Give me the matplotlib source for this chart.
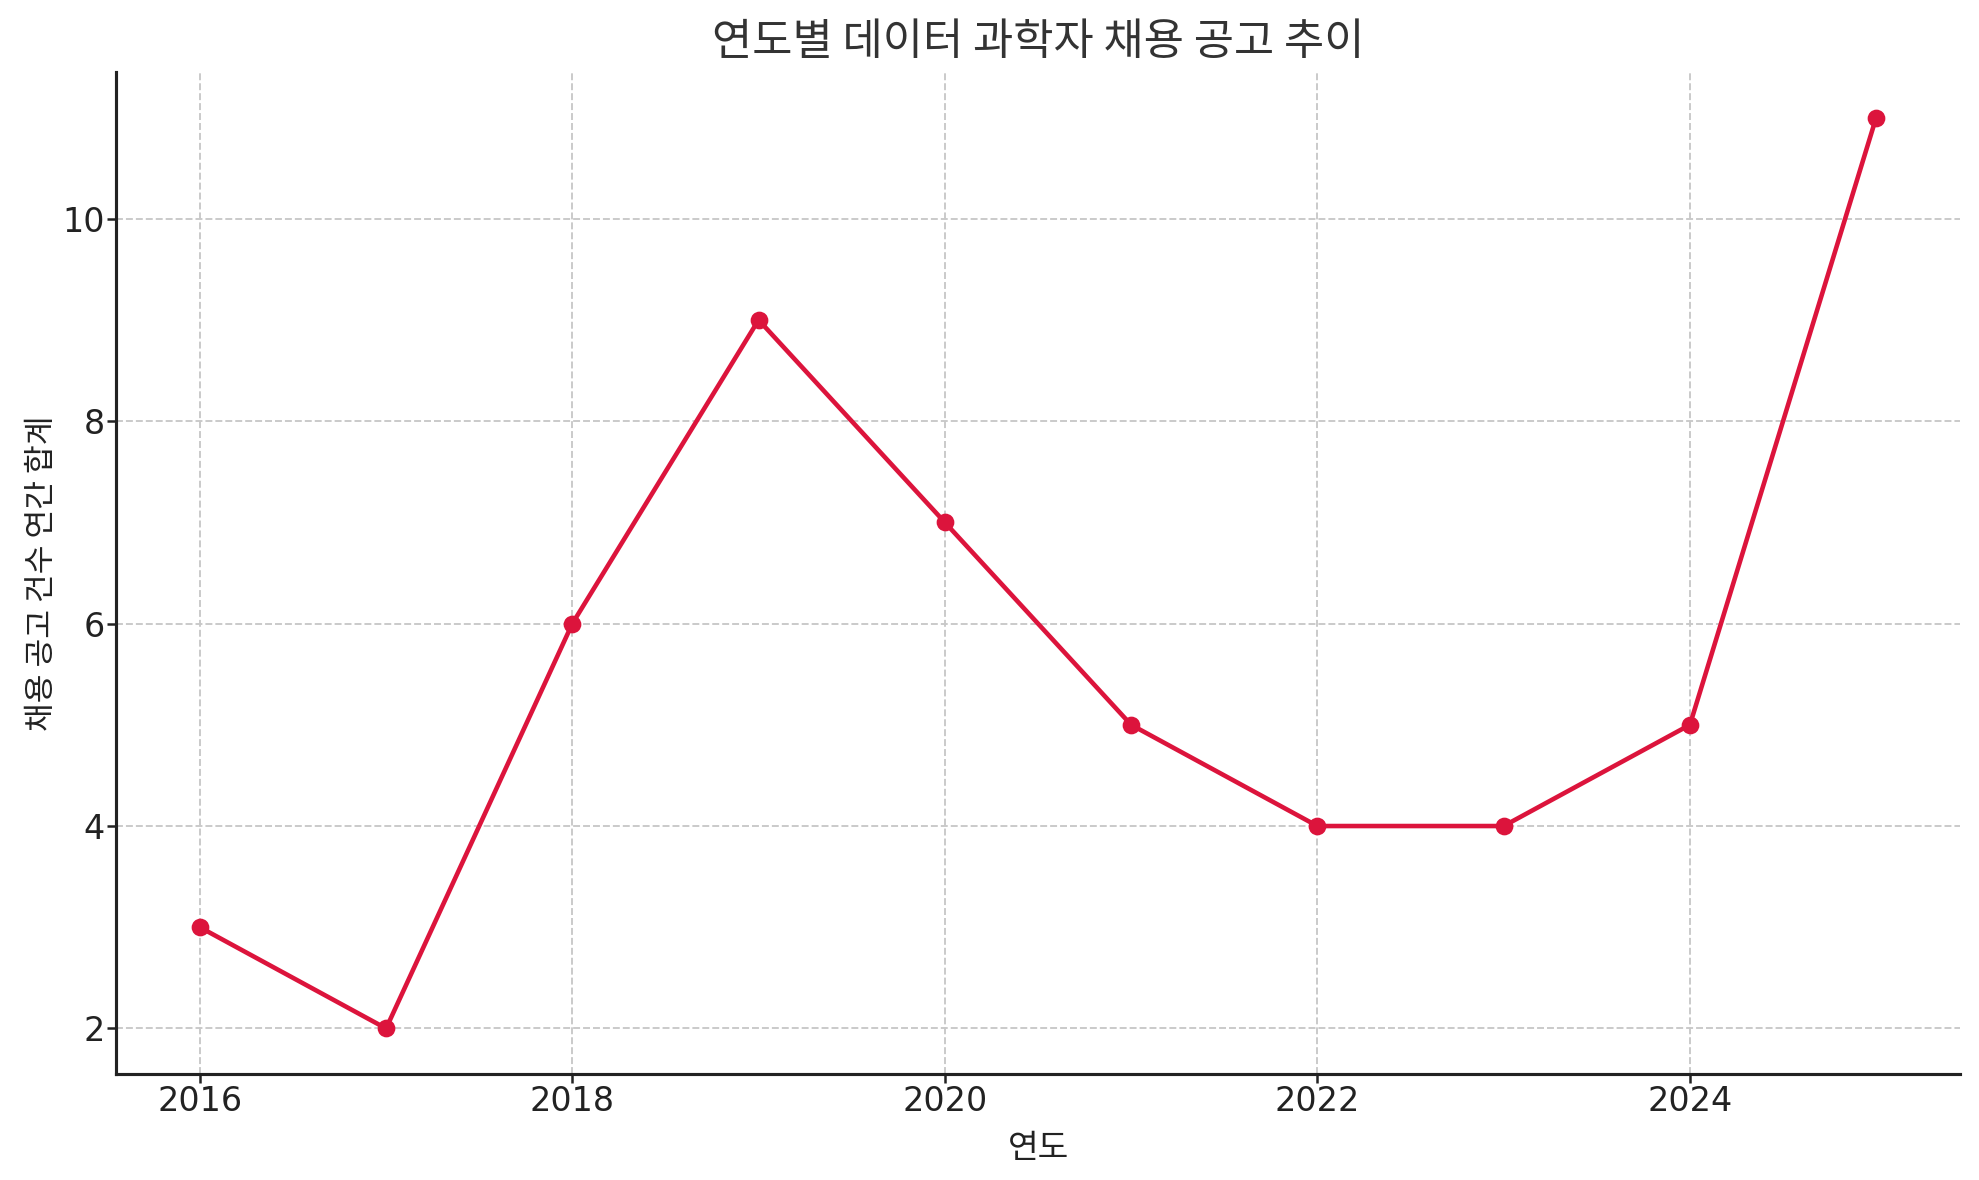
import matplotlib
matplotlib.use("Agg")
import matplotlib.pyplot as plt

years = [2016, 2017, 2018, 2019, 2020, 2021, 2022, 2023, 2024, 2025]
counts = [3, 2, 6, 9, 7, 5, 4, 4, 5, 11]
title = "연도별 데이터 과학자 채용 공고 추이"
xlabel = "연도"
ylabel = "채용 공고 건수 연간 합계"

plt.rcParams['font.family'] = ['DejaVu Sans', 'Noto Sans CJK KR']
KR = ['Noto Sans CJK KR', 'DejaVu Sans']

W, H, DPI = 1979, 1180, 150
fig = plt.figure(figsize=(W / DPI, H / DPI), dpi=DPI)
ax = fig.add_axes([116 / W, 1 - 1074 / H, (1960 - 116) / W, (1074 - 72) / H])

ax.plot(years, counts, color='#DC143C', linewidth=2.2, marker='o', markersize=7.5)
ax.grid(True, linestyle='--', color='#c8c8c8', linewidth=0.9)
ax.set_axisbelow(True)
for s in ['top', 'right']:
    ax.spines[s].set_visible(False)
for s in ['left', 'bottom']:
    ax.spines[s].set_linewidth(1.5)
    ax.spines[s].set_color('#222222')
ax.tick_params(labelsize=16, colors='#222222', length=4.5, width=1.2, pad=1)
ax.set_xticks([2016, 2018, 2020, 2022, 2024])
ax.set_yticks([2, 4, 6, 8, 10])

fig.text(0.5 * (116 + 1960) / W, 1 - 42 / H, title, fontsize=21, color='#333333',
         ha='center', va='center', family=KR)
ax.set_xlabel(xlabel, fontsize=16, color='#222222', family=KR)
ax.xaxis.set_label_coords(0.5, -(1131 - 1074) / (1074 - 72))
ax.set_ylabel(ylabel, fontsize=15, color='#222222', family=KR)
ax.yaxis.set_label_coords(-(116 - 58) / (1960 - 116), 0.5)

fig.savefig('out.png', dpi=DPI)
